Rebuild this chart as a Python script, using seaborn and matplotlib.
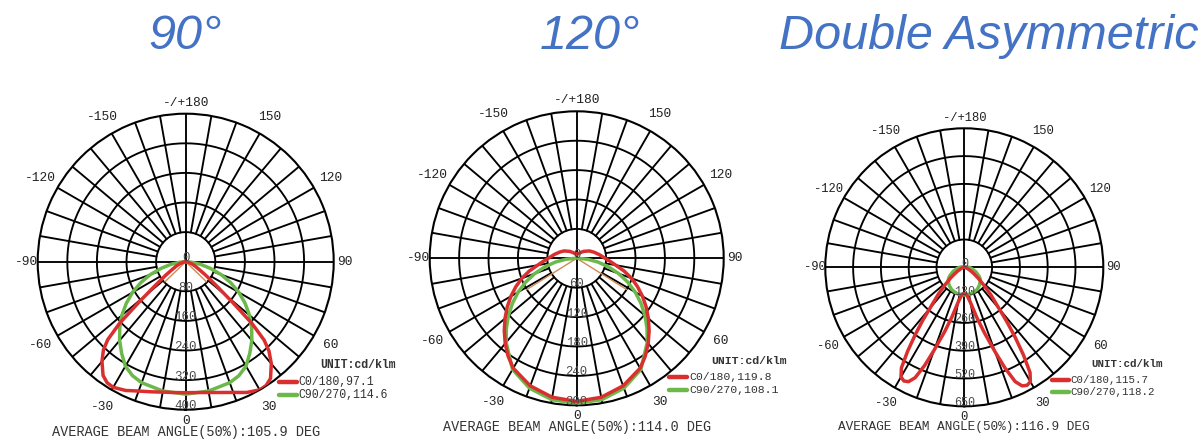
import numpy as np
import matplotlib.pyplot as plt
from matplotlib.lines import Line2D
import seaborn as sns

# candela curves (angle in deg, value in cd/klm)
red1_ang = [-90, -80, -70, -65, -60, -56, -52, -49, -47, -45, -43, -40, -36, -33, -30, -25, -20, -15, -10, -5,
            0, 5, 10, 15, 20, 25, 30, 33, 36, 40, 43, 45, 47, 49, 52, 56, 60, 65, 70, 80, 90]
red1_val = [0, 6, 18, 28, 42, 65, 105, 170, 245, 298, 326, 352, 380, 390, 392, 384, 372, 364, 358, 355,
            354, 355, 359, 366, 376, 390, 400, 399, 390, 360, 330, 300, 245, 170, 105, 65, 42, 28, 18, 6, 0]
green1_ang = [-90, -85, -80, -75, -70, -65, -60, -55, -50, -45, -40, -35, -30, -25, -20, -10,
              0, 10, 20, 25, 30, 35, 40, 45, 50, 55, 60, 65, 70, 75, 80, 85, 90]
green1_val = [0, 15, 40, 68, 102, 134, 166, 196, 225, 252, 278, 302, 326, 340, 348, 355,
              358, 355, 348, 340, 326, 302, 278, 252, 225, 196, 166, 134, 102, 68, 40, 15, 0]
thin1_ang = [-46, 0, 46]
thin1_val = [78, 0, 78]

red2_ang = [-180, -165, -150, -135, -120, -110, -100, -90, -85, -80, -75, -70, -65, -60, -55, -50, -45, -40,
            -35, -30, -20, -10, 0, 10, 20, 30, 35, 40, 45, 50, 55, 60, 65, 70, 75, 80, 85,
            90, 100, 110, 120, 135, 150, 165, 180]
red2_val = [8, 9, 13, 20, 30, 37, 46, 58, 68, 81, 100, 119, 137, 155, 173, 191, 209, 227,
            244, 259, 277, 288, 292, 288, 277, 259, 244, 227, 209, 191, 173, 155, 137, 119, 100, 81, 68,
            58, 46, 37, 30, 20, 13, 9, 8]
green2_ang = [-90, -85, -80, -75, -70, -65, -60, -55, -50, -45, -40, -30, -20, -10,
              0, 10, 20, 30, 40, 45, 50, 55, 60, 65, 70, 75, 80, 85, 90]
green2_val = [3, 22, 44, 67, 91, 115, 138, 160, 182, 203, 224, 262, 282, 293,
              296, 293, 282, 262, 224, 203, 182, 160, 138, 115, 91, 67, 44, 22, 3]
thin2_ang = [-58, 0, 58]
thin2_val = [121, 0, 120]

red3_ang = [-90, -80, -70, -60, -56, -52, -48, -44, -40, -38, -36, -34, -32, -30, -28, -26, -24, -22, -20, -17, -14, -10, -5,
            0, 5, 10, 14, 17, 20, 22, 24, 26, 28, 30, 32, 34, 36, 38, 40, 44, 48, 52, 56, 60, 70, 80, 90]
red3_val = [0, 6, 15, 38, 55, 82, 118, 175, 250, 318, 392, 475, 555, 592, 602, 595, 565, 495, 412, 315, 240, 166, 127,
            122, 128, 168, 242, 318, 420, 508, 585, 617, 625, 618, 580, 495, 405, 325, 255, 178, 118, 82, 55, 38, 15, 6, 0]
green3_ang = [-180, -150, -120, -100, -90, -80, -70, -60, -55, -50, -40, -30, -15,
              0, 15, 30, 40, 50, 55, 60, 70, 80, 90, 100, 120, 150, 180]
green3_val = [0, 1, 4, 12, 22, 35, 55, 78, 90, 98, 110, 120, 128,
              130, 128, 120, 110, 98, 90, 78, 55, 35, 22, 12, 4, 1, 0]

titles = ["90°", "120°", "Double Asymmetric"]
ring_values = [[80, 160, 240, 320, 400], [60, 120, 180, 240, 300], [130, 260, 390, 520, 650]]
red_labels = ["C0/180,97.1", "C0/180,119.8", "C0/180,115.7"]
green_labels = ["C90/270,114.6", "C90/270,108.1", "C90/270,118.2"]
beam_angles = ["105.9", "114.0", "116.9"]
angle_ticks = [0, 30, 60, 90, 120, 150, 180, -150, -120, -90, -60, -30]
angle_names = ["0", "30", "60", "90", "120", "150", "-/+180", "-150", "-120", "-90", "-60", "-30"]

W, H = 1204, 443
RED = "#d9302f"
GREEN = "#6cb84a"

sns.set_theme(style="white")
plt.rcParams['font.family'] = ['Liberation Mono', 'DejaVu Sans Mono']

fig = plt.figure(figsize=(W / 100, H / 100), dpi=100)


def fx(x):
    return x / W


def fy(y):
    return 1 - y / H


# pixel layout of each diagram: centre x, centre y, radius, title x
layout = [(185.7, 261.7, 148, 185), (576.7, 258.3, 147, 590), (964.3, 267.3, 139, 989)]
series = [
    (red1_ang, red1_val, green1_ang, green1_val, thin1_ang, thin1_val),
    (red2_ang, red2_val, green2_ang, green2_val, thin2_ang, thin2_val),
    (red3_ang, red3_val, green3_ang, green3_val, None, None),
]

for i, (cx, cy, rad, tx) in enumerate(layout):
    rings = ring_values[i]
    rmax = rings[-1]
    s = rad / 148.0
    ax = fig.add_axes([fx(cx - rad), fy(cy + rad), 2 * rad / W, 2 * rad / H], projection='polar')
    ax.set_theta_zero_location('S')
    ax.set_theta_direction(1)
    ax.grid(False)
    ax.set_facecolor('white')
    ax.spines['polar'].set_color('black')
    ax.spines['polar'].set_linewidth(1.5)

    # grid: rings and spokes every 10 degrees
    th = np.linspace(0, 2 * np.pi, 361)
    for r in rings[:-1]:
        ax.plot(th, np.full_like(th, r), color='black', lw=1.35, zorder=1)
    for a in range(0, 360, 10):
        r0 = 0 if a % 90 == 0 else rings[0]
        ax.plot([np.radians(a)] * 2, [r0, rmax], color='black', lw=1.35, zorder=1)

    ra, rv, ga, gv, ta, tv = series[i]
    if ta is not None:
        sns.lineplot(x=np.radians(ta), y=tv, ax=ax, sort=False, estimator=None,
                     color="#d08a55", lw=1.0, zorder=3)
    sns.lineplot(x=np.radians(ga), y=gv, ax=ax, sort=False, estimator=None,
                 color=GREEN, lw=2.5, zorder=4)
    sns.lineplot(x=np.radians(ra), y=rv, ax=ax, sort=False, estimator=None,
                 color=RED, lw=2.5, zorder=5)

    ax.set_ylim(0, rmax)
    ax.set_xticks([])
    ax.set_yticks([])
    ax.set_xlabel('')
    ax.set_ylabel('')

    # radial labels along the 0 direction
    for r, lab in zip([0] + rings, ["0"] + [str(v) for v in rings]):
        ax.annotate(lab, (0, r), xytext=(0, 2.5), textcoords='offset points',
                    ha='center', va='center', fontsize=9 * s, color='#4a4a4a', zorder=6)

    # angle labels round the outside
    for a, lab in zip(angle_ticks, angle_names):
        f = 1.075 if a % 90 == 0 else 1.13
        ax.text(np.radians(a), rmax * f, lab, ha='center', va='center',
                fontsize=9.3 * s, color='#222222', clip_on=False)

    # title
    fig.text(fx(tx), fy(49), titles[i], ha='center', va='baseline', fontsize=35,
             style='italic', color='#4472c4', family='Liberation Sans')

    # legend block
    lx = cx + 93 * s
    ly = cy + 103 * s
    fig.text(fx(lx + 42 * s), fy(ly), "UNIT:cd/klm", fontsize=8.3 * s, fontweight='bold',
             color='#333333', va='center')
    for k, (col, lab) in enumerate([(RED, red_labels[i]), (GREEN, green_labels[i])]):
        yy = ly + 17 * s + k * 13 * s
        fig.add_artist(Line2D([fx(lx), fx(lx + 18 * s)], [fy(yy), fy(yy)], color=col, lw=3.2))
        fig.text(fx(lx + 20 * s), fy(yy), lab, fontsize=8.3 * s, color='#333333', va='center')

    fig.text(fx(cx), fy(cy + 170 * s), "AVERAGE BEAM ANGLE(50%):" + beam_angles[i] + " DEG",
             ha='center', va='center', fontsize=9.8 * s, color='#333333')

fig.savefig("out.png", dpi=100)
